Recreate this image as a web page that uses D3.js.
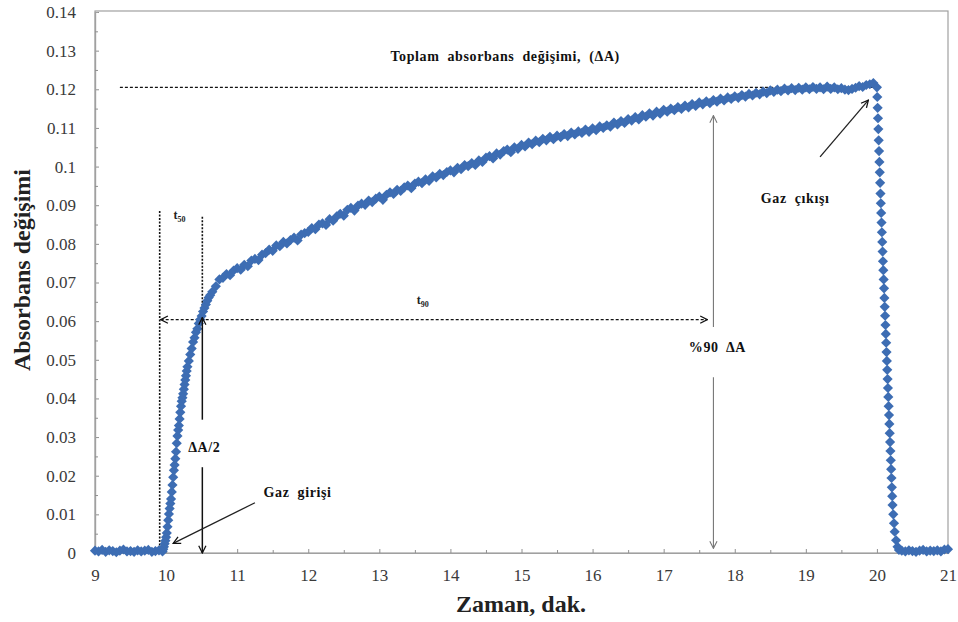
<!DOCTYPE html>
<html>
<head>
<meta charset="utf-8">
<script src="https://cdn.jsdelivr.net/npm/d3@7"></script>
<style>
  body { margin: 0; background: #fff; }
  text { font-family: "Liberation Serif", "Times New Roman", serif; }
</style>
</head>
<body>
<div id="chart"></div>
<script>
// [minutes, absorbance change]
var baseStart = [[9.00,0.0006],[9.05,0.0004],[9.10,0.0008],[9.15,0.0003],[9.20,0.0007],[9.25,0.0005],[9.30,0.0002],
  [9.35,0.0006],[9.40,0.0009],[9.45,0.0004],[9.50,0.0005],[9.55,0.0003],[9.60,0.0007],[9.65,0.0004],[9.70,0.0006],
  [9.75,0.0008],[9.80,0.0003],[9.85,0.0005],[9.90,0.0007],[9.95,0.0004]]

var rise = [[9.96,0.0010],[9.97,0.0016],[9.98,0.0024],[9.99,0.0032],[10.00,0.0041],[10.01,0.0052],[10.02,0.0068],
  [10.03,0.0085],[10.04,0.0101],[10.05,0.0115],[10.06,0.0128],[10.07,0.0140],[10.08,0.0158],[10.09,0.0176],
  [10.10,0.0196],[10.11,0.0214],[10.12,0.0228],[10.13,0.0244],[10.14,0.0262],[10.15,0.0284],[10.16,0.0303],
  [10.17,0.0318],[10.18,0.0330],[10.19,0.0347],[10.20,0.0364],[10.21,0.0380],[10.22,0.0393],[10.23,0.0402],
  [10.24,0.0412],[10.25,0.0424],[10.26,0.0436],[10.27,0.0448],[10.28,0.0459],[10.29,0.0471],[10.30,0.0482],
  [10.32,0.0497],[10.34,0.0514],[10.36,0.0529],[10.38,0.0546],[10.40,0.0557],[10.42,0.0571],[10.44,0.0580],
  [10.46,0.0594],[10.48,0.0604],[10.50,0.0613],[10.52,0.0625],[10.54,0.0634],[10.56,0.0643],[10.58,0.0653],
  [10.60,0.0661],[10.62,0.0667]]

var growth = [[10.65,0.0676],[10.70,0.0690],[10.75,0.0708],[10.80,0.0712],[10.85,0.0722],[10.90,0.0719],[10.95,0.0731],
  [11.00,0.0737],[11.05,0.0733],[11.10,0.0746],[11.15,0.0742],[11.20,0.0757],[11.25,0.0761],[11.30,0.0758],
  [11.35,0.0772],[11.40,0.0776],[11.45,0.0785],[11.50,0.0782],[11.55,0.0796],[11.60,0.0794],[11.65,0.0805],
  [11.70,0.0801],[11.75,0.0810],[11.80,0.0816],[11.85,0.0809],[11.90,0.0824],[11.95,0.0828],[12.00,0.0831],
  [12.05,0.0841],[12.10,0.0838],[12.15,0.0850],[12.20,0.0853],[12.25,0.0849],[12.30,0.0864],[12.35,0.0860],
  [12.40,0.0871],[12.45,0.0878],[12.50,0.0873],[12.55,0.0888],[12.60,0.0893],[12.65,0.0886],[12.70,0.0899],
  [12.75,0.0904],[12.80,0.0901],[12.85,0.0912],[12.90,0.0908],[12.95,0.0917],[13.00,0.0922],[13.05,0.0914],
  [13.10,0.0927],[13.15,0.0933],[13.20,0.0929],[13.25,0.0940],[13.30,0.0937],[13.35,0.0946],[13.40,0.0951],
  [13.45,0.0944],[13.50,0.0956],[13.55,0.0961],[13.60,0.0957],[13.65,0.0967],[13.70,0.0963],[13.75,0.0975],
  [13.80,0.0972],[13.85,0.0981],[13.90,0.0978],[13.95,0.0986],[14.00,0.0990],[14.05,0.0985],[14.10,0.0997],
  [14.15,0.0993],[14.20,0.1004],[14.25,0.1001],[14.30,0.1009],[14.35,0.1004],[14.40,0.1016],[14.45,0.1012],
  [14.50,0.1023],[14.55,0.1027],[14.60,0.1021],[14.65,0.1034],[14.70,0.1031],[14.75,0.1040],[14.80,0.1044],
  [14.85,0.1037],[14.90,0.1050],[14.95,0.1046],[15.00,0.1056],[15.05,0.1052],[15.10,0.1062],[15.15,0.1058],
  [15.20,0.1067],[15.25,0.1063],[15.30,0.1072],[15.35,0.1068],[15.40,0.1077],[15.45,0.1071],[15.50,0.1080],
  [15.55,0.1076],[15.60,0.1084],[15.65,0.1079],[15.70,0.1088],[15.75,0.1083],[15.80,0.1091],[15.85,0.1087],
  [15.90,0.1096],[15.95,0.1090],[16.00,0.1099],[16.05,0.1094],[16.10,0.1104],[16.15,0.1100],[16.20,0.1107],
  [16.25,0.1103],[16.30,0.1114],[16.35,0.1109],[16.40,0.1118],[16.45,0.1113],[16.50,0.1123],[16.55,0.1119],
  [16.60,0.1128],[16.65,0.1122],[16.70,0.1133],[16.75,0.1129],[16.80,0.1138],[16.85,0.1132],[16.90,0.1142],
  [16.95,0.1137],[17.00,0.1147],[17.05,0.1142],[17.10,0.1150],[17.15,0.1146],[17.20,0.1154],[17.25,0.1149],
  [17.30,0.1158],[17.35,0.1153],[17.40,0.1162],[17.45,0.1157],[17.50,0.1166],[17.55,0.1161],[17.60,0.1169],
  [17.65,0.1164],[17.70,0.1172],[17.75,0.1168],[17.80,0.1176],[17.85,0.1171],[17.90,0.1179],[17.95,0.1175],
  [18.00,0.1182],[18.05,0.1178],[18.10,0.1185],[18.15,0.1181],[18.20,0.1188],[18.25,0.1184],[18.30,0.1191],
  [18.35,0.1187],[18.40,0.1194],[18.45,0.1190],[18.50,0.1197],[18.55,0.1193],[18.60,0.1199],[18.65,0.1195],
  [18.70,0.1202],[18.75,0.1197],[18.80,0.1203],[18.85,0.1198],[18.90,0.1204],[18.95,0.1199],[19.00,0.1205],
  [19.05,0.1200],[19.10,0.1206],[19.15,0.1201],[19.20,0.1205],[19.25,0.1200],[19.30,0.1207],[19.35,0.1201],
  [19.40,0.1205],[19.45,0.1200],[19.50,0.1203],[19.55,0.1199],[19.60,0.1198],[19.65,0.1201],[19.70,0.1204],
  [19.75,0.1208],[19.80,0.1206],[19.85,0.1211],[19.90,0.1213],[19.95,0.1216]]

var drop = [[20.00,0.1205],[20.005,0.1180],[20.01,0.1152],[20.015,0.1125],[20.02,0.1097],[20.025,0.1068],
  [20.03,0.1040],[20.035,0.1012],[20.04,0.0985],[20.045,0.0958],[20.05,0.0930],[20.055,0.0905],[20.06,0.0880],
  [20.065,0.0855],[20.07,0.0830],[20.075,0.0805],[20.08,0.0780],[20.085,0.0755],[20.09,0.0732],[20.095,0.0708],
  [20.10,0.0685],[20.105,0.0660],[20.11,0.0637],[20.115,0.0614],[20.12,0.0590],[20.125,0.0567],[20.13,0.0544],
  [20.135,0.0520],[20.14,0.0497],[20.145,0.0474],[20.15,0.0450],[20.155,0.0427],[20.16,0.0404],[20.165,0.0380],
  [20.17,0.0357],[20.175,0.0334],[20.18,0.0310],[20.185,0.0287],[20.19,0.0264],[20.195,0.0240],[20.20,0.0217],
  [20.205,0.0194],[20.21,0.0170],[20.215,0.0147],[20.22,0.0124],[20.23,0.0100],[20.24,0.0077],[20.25,0.0055],
  [20.27,0.0033],[20.29,0.0016],[20.31,0.0008]]

var baseEnd = [[20.35,0.0006],[20.40,0.0004],[20.45,0.0007],[20.50,0.0005],[20.55,0.0003],[20.60,0.0006],
  [20.65,0.0008],[20.70,0.0004],[20.75,0.0006],[20.80,0.0005],[20.85,0.0007],[20.90,0.0004],[20.95,0.0009],[21.00,0.0010]]

var xTicks = [9, 10, 11, 12, 13, 14, 15, 16, 17, 18, 19, 20, 21]
var yTicks = [0, 0.01, 0.02, 0.03, 0.04, 0.05, 0.06, 0.07, 0.08, 0.09, 0.1, 0.11, 0.12, 0.13, 0.14]

var totalA = 0.1205   // toplam absorbans degisimi
var halfA = 0.0604    // dA/2
var tStart = 9.91     // gaz girisi
var tHalf = 10.51     // t50
var t90 = 17.70       // %90 dA
var tOut = 20.0       // gaz cikisi

var W = 958, H = 622
var svg = d3.select("#chart").append("svg").attr("width", W).attr("height", H)

var x = d3.scaleLinear().domain([9, 21]).range([95, 948])
var y = d3.scaleLinear().domain([0, 0.14]).range([553, 12])

var defs = svg.append("defs")
defs.append("marker").attr("id", "arr").attr("viewBox", "0 0 10 10")
    .attr("refX", 9).attr("refY", 5).attr("markerWidth", 9).attr("markerHeight", 9)
    .attr("markerUnits", "userSpaceOnUse").attr("orient", "auto-start-reverse")
  .append("path").attr("d", "M1,1 L9,5 L1,9").attr("fill", "none").attr("stroke", "#111").attr("stroke-width", 1.4)
defs.append("marker").attr("id", "arrGrey").attr("viewBox", "0 0 10 10")
    .attr("refX", 9).attr("refY", 5).attr("markerWidth", 9).attr("markerHeight", 9)
    .attr("markerUnits", "userSpaceOnUse").attr("orient", "auto-start-reverse")
  .append("path").attr("d", "M1,1 L9,5 L1,9").attr("fill", "none").attr("stroke", "#777").attr("stroke-width", 1.2)

// frame
svg.append("rect").attr("x", x(9)).attr("y", y(0.14) - 1).attr("width", x(21) - x(9)).attr("height", y(0) - y(0.14) + 1)
   .attr("fill", "none").attr("stroke", "#a0a0a0").attr("stroke-width", 1.2)

// axes
svg.append("g").attr("transform", "translate(0," + y(0) + ")")
   .call(d3.axisBottom(x).tickValues(xTicks).tickSize(-4).tickPadding(16).tickFormat(d3.format("d")))
svg.append("g").attr("transform", "translate(0," + y(0) + ")")
   .call(d3.axisBottom(x).tickValues(xTicks.slice(0, -1).map(function(d) {return d + 0.5})).tickSize(-3).tickFormat(""))
svg.append("g").attr("transform", "translate(" + x(9) + ",0)")
   .call(d3.axisLeft(y).tickValues(yTicks).tickSize(-4).tickPadding(19).tickFormat(function(d) {return String(+d.toFixed(2))}))
svg.append("g").attr("transform", "translate(" + x(9) + ",0)")
   .call(d3.axisLeft(y).tickValues(yTicks.slice(0, -1).map(function(d) {return d + 0.005})).tickSize(-3).tickFormat(""))

svg.selectAll(".domain").attr("stroke", "#a0a0a0").attr("stroke-width", 1.2)
svg.selectAll(".tick line").attr("stroke", "#909090")
svg.selectAll(".tick text").attr("fill", "#3a3a3a").style("font-size", "17px")
   .style("font-family", "'Liberation Serif', serif")

// axis titles
svg.append("text").attr("x", 521).attr("y", 612).attr("text-anchor", "middle")
   .style("font-size", "24px").style("font-weight", "bold").attr("fill", "#222").text("Zaman, dak.")
svg.append("text").attr("transform", "translate(30,270) rotate(-90)").attr("text-anchor", "middle")
   .style("font-size", "24px").style("font-weight", "bold").attr("fill", "#222").text("Absorbans değişimi")

// annotation lines (under the points)
var ann = svg.append("g")
ann.append("line").attr("x1", x(9.35)).attr("x2", x(tOut)).attr("y1", y(totalA)).attr("y2", y(totalA))
   .attr("stroke", "#111").attr("stroke-width", 1.2).attr("stroke-dasharray", "3,2")
ann.append("line").attr("x1", x(tStart)).attr("x2", x(tStart)).attr("y1", y(0.0885)).attr("y2", y(0))
   .attr("stroke", "#111").attr("stroke-width", 1.6).attr("stroke-dasharray", "2,1.5")
ann.append("line").attr("x1", x(tHalf)).attr("x2", x(tHalf)).attr("y1", y(0.087)).attr("y2", y(halfA))
   .attr("stroke", "#111").attr("stroke-width", 1.6).attr("stroke-dasharray", "2,1.5")
ann.append("line").attr("x1", x(tStart) + 1).attr("x2", x(t90) - 6).attr("y1", y(halfA)).attr("y2", y(halfA))
   .attr("stroke", "#111").attr("stroke-width", 1.3).attr("stroke-dasharray", "3,2")
   .attr("marker-start", "url(#arr)").attr("marker-end", "url(#arr)")

// data points
var allPts = baseStart.concat(rise, growth, drop, baseEnd)
svg.append("g").selectAll("path").data(allPts).join("path")
   .attr("transform", function(d) {return "translate(" + x(d[0]) + "," + y(d[1]) + ")"})
   .attr("d", d3.symbol(d3.symbolDiamond2, 66))
   .attr("fill", "#3d6db3")

// arrows drawn over the points
var arrows = svg.append("g")
arrows.append("line").attr("x1", x(tHalf)).attr("x2", x(tHalf)).attr("y1", y(0.0345)).attr("y2", y(halfA) - 2)
   .attr("stroke", "#111").attr("stroke-width", 1.5).attr("marker-end", "url(#arr)")
arrows.append("line").attr("x1", x(tHalf)).attr("x2", x(tHalf)).attr("y1", y(0.0222)).attr("y2", y(0))
   .attr("stroke", "#111").attr("stroke-width", 1.5).attr("marker-end", "url(#arr)")
arrows.append("line").attr("x1", x(t90)).attr("x2", x(t90)).attr("y1", y(0.0585)).attr("y2", y(0.1132))
   .attr("stroke", "#777").attr("stroke-width", 1.1).attr("marker-end", "url(#arrGrey)")
arrows.append("line").attr("x1", x(t90)).attr("x2", x(t90)).attr("y1", y(0.0455)).attr("y2", y(0.0012))
   .attr("stroke", "#777").attr("stroke-width", 1.1).attr("marker-end", "url(#arrGrey)")
arrows.append("line").attr("x1", x(11.25)).attr("x2", x(10.1)).attr("y1", y(0.013)).attr("y2", y(0.0025))
   .attr("stroke", "#222").attr("stroke-width", 1.3).attr("marker-end", "url(#arr)")
arrows.append("line").attr("x1", x(19.2)).attr("x2", x(19.88)).attr("y1", y(0.1025)).attr("y2", y(0.1172))
   .attr("stroke", "#222").attr("stroke-width", 1.3).attr("marker-end", "url(#arr)")

// labels
function label(tx, ty, str) {
  return svg.append("text").attr("x", tx).attr("y", ty).attr("text-anchor", "middle")
    .style("font-size", "14px").style("font-weight", "bold").style("letter-spacing", "0.6px")
    .style("word-spacing", "4px").attr("fill", "#111").text(str)
}
label(x(14.77), y(totalA) - 26, "Toplam absorbans değişimi, (ΔA)")
label(x(t90) + 4, y(halfA) + 32, "%90 ΔA")
label(x(tHalf) + 2, y(0.0275) + 5, "ΔA/2")
label(x(11.85), y(0.0155) + 4, "Gaz girişi")
label(x(18.85), y(0.0915) + 4, "Gaz çıkışı")

var t50 = svg.append("text").attr("x", x(10.19)).attr("y", y(0.0865)).attr("text-anchor", "middle")
   .style("font-size", "12px").style("font-weight", "bold").attr("fill", "#222")
t50.append("tspan").text("t")
t50.append("tspan").attr("dy", 3).style("font-size", "8px").text("50")
var t90l = svg.append("text").attr("x", x(13.61)).attr("y", y(halfA) - 16).attr("text-anchor", "middle")
   .style("font-size", "12px").style("font-weight", "bold").attr("fill", "#222")
t90l.append("tspan").text("t")
t90l.append("tspan").attr("dy", 3).style("font-size", "8px").text("90")
</script>
</body>
</html>
